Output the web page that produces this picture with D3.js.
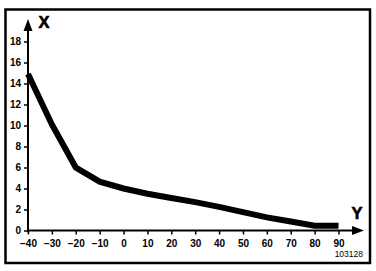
<!DOCTYPE html>
<html><head><meta charset="utf-8">
<script src="https://cdn.jsdelivr.net/npm/d3@7/dist/d3.min.js"></script>
<style>html,body{margin:0;padding:0;background:#fff;}svg{display:block;}</style>
</head><body>
<script>
const yVals = [-40,-30,-20,-10,0,10,20,30,40,50,60,70,80,90];
const xVals = [14.9,10.1,6.0,4.65,4.0,3.5,3.1,2.7,2.25,1.75,1.25,0.85,0.45,0.45];
const xTicks = [-40,-30,-20,-10,0,10,20,30,40,50,60,70,80,90];
const yTicks = [0,2,4,6,8,10,12,14,16,18];
const axisNameH = "Y", axisNameV = "X", refCode = "103128";

const W = 376, H = 271;
const svg = d3.select("body").append("svg").attr("width", W).attr("height", H);
const font = "'Liberation Sans', Arial, sans-serif";

svg.append("rect").attr("x",5.5).attr("y",9.5).attr("width",364.5).attr("height",253.5)
  .attr("fill","none").attr("stroke","#000").attr("stroke-width",2.5);

const x = d3.scaleLinear().domain([-40,90]).range([28,338.5]);
const y = d3.scaleLinear().domain([0,18]).range([230.5,41.5]);

// x axis
const gx = svg.append("g").attr("transform",`translate(0,${y(0)})`)
  .call(d3.axisBottom(x).tickValues(xTicks).tickSize(4).tickPadding(5).tickSizeOuter(0));
gx.select(".domain").remove();
gx.selectAll("line").attr("stroke","#000").attr("stroke-width",1.5);
gx.selectAll("text").attr("font-family",font).attr("font-weight","bold").attr("font-size",10).attr("fill","#000");
svg.append("line").attr("x1",x(-40)-1).attr("x2",355).attr("y1",y(0)).attr("y2",y(0))
  .attr("stroke","#000").attr("stroke-width",2);
svg.append("path").attr("d",`M352,${y(0)-4.5}L364,${y(0)}L352,${y(0)+4.5}Z`).attr("fill","#000");

// y axis
const gy = svg.append("g").attr("transform",`translate(${x(-40)},0)`)
  .call(d3.axisLeft(y).tickValues(yTicks).tickSize(4).tickPadding(3).tickSizeOuter(0));
gy.select(".domain").remove();
gy.selectAll("line").attr("stroke","#000").attr("stroke-width",1.5);
gy.selectAll("text").attr("font-family",font).attr("font-weight","bold").attr("font-size",10).attr("fill","#000");
svg.append("line").attr("x1",x(-40)).attr("x2",x(-40)).attr("y1",y(0)+2).attr("y2",28)
  .attr("stroke","#000").attr("stroke-width",2);
svg.append("path").attr("d",`M${x(-40)-4.5},31L${x(-40)},19L${x(-40)+4.5},31Z`).attr("fill","#000");

// curve
const line = d3.line().x((d,i)=>x(yVals[i])).y(d=>y(d));
svg.append("path").datum(xVals).attr("d",line).attr("fill","none")
  .attr("stroke","#000").attr("stroke-width",6).attr("stroke-linejoin","miter");

// labels
svg.append("text").attr("x",44).attr("y",28).attr("text-anchor","middle")
  .attr("font-family",font).attr("font-weight","bold").attr("font-size",16.5)
  .attr("stroke","#000").attr("stroke-width",0.6).text(axisNameV);
svg.append("text").attr("x",357).attr("y",219).attr("text-anchor","middle")
  .attr("font-family",font).attr("font-weight","bold").attr("font-size",16.5)
  .attr("stroke","#000").attr("stroke-width",0.6).text(axisNameH);
svg.append("text").attr("x",363).attr("y",257).attr("text-anchor","end")
  .attr("font-family",font).attr("font-size",8.5).text(refCode);
</script>
</body></html>
